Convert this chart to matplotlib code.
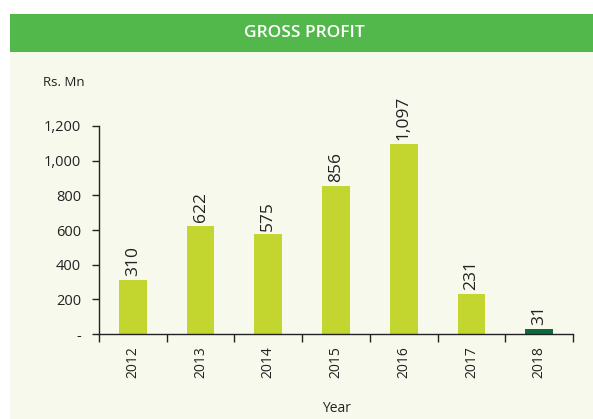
import matplotlib
matplotlib.use('Agg')
import matplotlib.pyplot as plt
from matplotlib.patches import Rectangle
import numpy as np

# Data
years = ['2012', '2013', '2014', '2015', '2016', '2017', '2018']
gross_profit = [310, 622, 575, 856, 1097, 231, 31]
value_labels = ['310', '622', '575', '856', '1,097', '231', '31']
bar_colors = ['#C2D62F'] * 6 + ['#0B6B3A']
y_ticks = [0, 200, 400, 600, 800, 1000, 1200]
y_tick_labels = ['-', '200', '400', '600', '800', '1,000', '1,200']

plt.rcParams['font.family'] = ['Open Sans', 'DejaVu Sans']

W, H = 593, 419
fig = plt.figure(figsize=(W / 100, H / 100), dpi=100)
fig.patch.set_facecolor('white')

# panel background and green header
fig.patches.append(Rectangle((10 / W, 0), 1 - 10 / W, 1 - 52 / H,
                             transform=fig.transFigure, facecolor='#F7F9EC',
                             edgecolor='none', zorder=-2))
fig.patches.append(Rectangle((10 / W, 1 - 52 / H), 1 - 10 / W, 38 / H,
                             transform=fig.transFigure, facecolor='#52B84B',
                             edgecolor='none', zorder=-2))
fig.text(304 / W, 1 - 33 / H, 'GROSS PROFIT', color='white', fontsize=12.5,
         fontweight='semibold', ha='center', va='center')

ax = fig.add_axes([99 / W, 1 - 334 / H, 474 / W, 208 / H])
ax.set_zorder(2)
ax.set_facecolor('none')

x = np.arange(len(years))
ax.bar(x, gross_profit, width=0.41, color=bar_colors, zorder=2)

for xi, v, lab in zip(x, gross_profit, value_labels):
    ax.text(xi, v + 22, lab, rotation=90, ha='center', va='bottom',
            fontsize=12.5, color='#222222')

ax.set_xlim(-0.5, len(years) - 0.5)
ax.set_ylim(0, 1200)

ax.set_yticks(y_ticks)
ax.set_yticklabels(y_tick_labels, fontsize=10.5, color='#222222')
ax.tick_params(axis='y', length=5, width=1, color='#222222', pad=8)

ax.set_xticks(x)
ax.set_xticklabels(years, rotation=90, fontsize=10, color='#222222')
ax.tick_params(axis='x', which='major', length=0, pad=9)
ax.set_xticks(np.arange(-0.5, len(years)), minor=True)
ax.tick_params(axis='x', which='minor', length=6, width=1, color='#222222')

for s in ['top', 'right']:
    ax.spines[s].set_visible(False)
for s in ['left', 'bottom']:
    ax.spines[s].set_color('#222222')
    ax.spines[s].set_linewidth(1)

ax.set_xlabel('Year', fontsize=10, color='#222222', labelpad=16)
fig.text(43 / W, 1 - 83 / H, 'Rs. Mn', fontsize=9.5, color='#222222',
         ha='left', va='center')

fig.savefig('out.png', dpi=100)
